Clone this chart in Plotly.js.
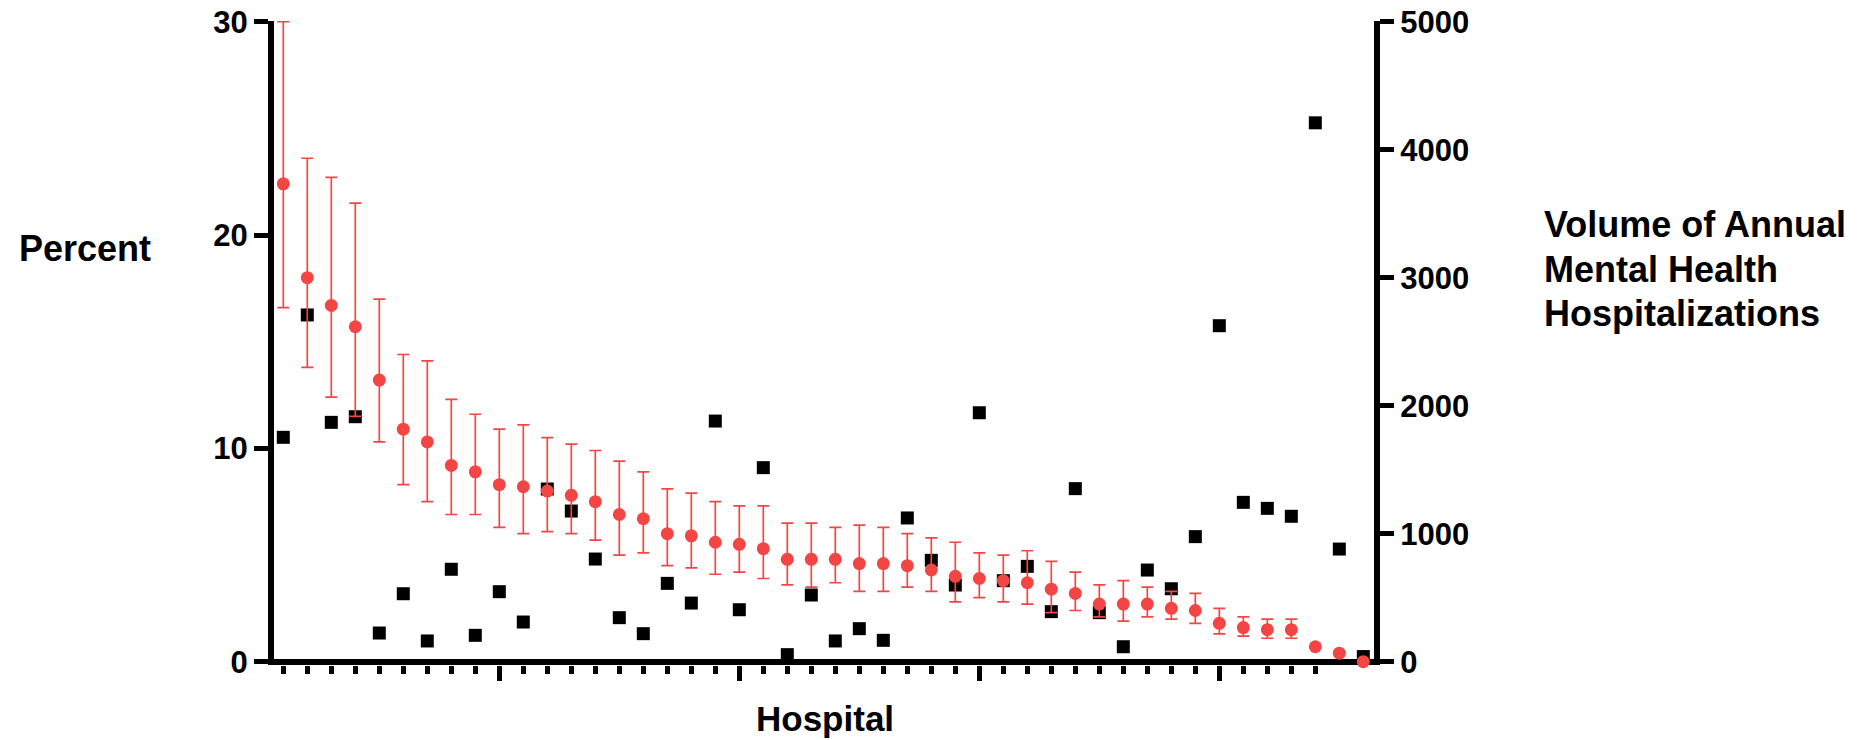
<!DOCTYPE html>
<html>
<head>
<meta charset="utf-8">
<script src="https://cdn.plot.ly/plotly-3.0.1.min.js"></script>
<style>
  html, body { margin: 0; padding: 0; background: #ffffff; }
  #chart { width: 1867px; height: 740px; }
</style>
</head>
<body>
<div id="chart"></div>
<script>
// ---- Data ----
const hospitals = [1,2,3,4,5,6,7,8,9,10,11,12,13,14,15,16,17,18,19,20,21,22,23,24,25,26,27,28,29,30,31,32,33,34,35,36,37,38,39,40,41,42,43,44,45,46];

const percent = [22.4, 18.0, 16.7, 15.7, 13.2, 10.9, 10.3, 9.2, 8.9, 8.3, 8.2, 8.0, 7.8, 7.5, 6.9, 6.7, 6.0, 5.9, 5.6, 5.5, 5.3, 4.8, 4.8, 4.8, 4.6, 4.6, 4.5, 4.3, 4.0, 3.9, 3.8, 3.7, 3.4, 3.2, 2.7, 2.7, 2.7, 2.5, 2.4, 1.8, 1.6, 1.5, 1.5, 0.7, 0.4, 0.0];

const ciUpper = [30.0, 23.6, 22.7, 21.5, 17.0, 14.4, 14.1, 12.3, 11.6, 10.9, 11.1, 10.5, 10.2, 9.9, 9.4, 8.9, 8.1, 7.9, 7.5, 7.3, 7.3, 6.5, 6.5, 6.3, 6.4, 6.3, 6.0, 5.8, 5.6, 5.1, 5.0, 5.2, 4.7, 4.2, 3.6, 3.8, 3.5, 3.3, 3.2, 2.5, 2.1, 2.0, 2.0, 0.7, 0.4, 0.0];

const ciLower = [16.6, 13.8, 12.4, 11.5, 10.3, 8.3, 7.5, 6.9, 6.9, 6.3, 6.0, 6.1, 6.0, 5.7, 5.0, 5.1, 4.5, 4.4, 4.1, 4.2, 3.9, 3.6, 3.5, 3.7, 3.3, 3.3, 3.5, 3.3, 2.8, 3.0, 2.8, 2.7, 2.3, 2.4, 2.1, 1.9, 2.1, 2.0, 1.8, 1.3, 1.2, 1.1, 1.1, 0.7, 0.4, 0.0];

const volume = [1753, 2709, 1870, 1914, 224, 531, 162, 722, 206, 547, 310, 1349, 1177, 802, 344, 219, 612, 458, 1880, 406, 1516, 55, 521, 162, 258, 167, 1123, 792, 599, 1945, 633, 745, 391, 1352, 383, 117, 716, 570, 977, 2625, 1245, 1198, 1136, 4210, 880, 40];

const leftTicks = [0, 10, 20, 30];
const rightTicks = [0, 1000, 2000, 3000, 4000, 5000];
const majorXTicks = [10, 20, 30, 40];
const minorXTicks = [1,2,3,4,5,6,7,8,9,11,12,13,14,15,16,17,18,19,21,22,23,24,25,26,27,28,29,31,32,33,34,35,36,37,38,39,41,42,43,44];

const xTitle = "Hospital";
const leftTitle = "Percent";
const rightTitleLines = ["Volume of Annual", "Mental Health", "Hospitalizations"];

// ---- Layout geometry ----
const W = 1867, H = 740;
const mL = 274, mR = W - 1374, mT = 21, mB = H - 665;
const plotW = W - mL - mR, plotH = H - mT - mB;
const px = x => (x - mL) / plotW;
const py = y => (H - mB - y) / plotH;

const RED = '#F44545';
const FONT = '"Liberation Sans", Arial, Helvetica, sans-serif';

const errPlus = ciUpper.map((u, i) => +(u - percent[i]).toFixed(3));
const errMinus = ciLower.map((l, i) => +(percent[i] - l).toFixed(3));

const traces = [
  {
    type: 'scatter', mode: 'markers',
    x: hospitals, y: volume, yaxis: 'y', xaxis: 'x',
    marker: { symbol: 'square', size: 13, color: '#000000' },
    cliponaxis: false, hoverinfo: 'skip', showlegend: false
  },
  {
    type: 'scatter', mode: 'markers',
    x: hospitals, y: percent, yaxis: 'y2', xaxis: 'x',
    marker: { symbol: 'circle', size: 13, color: RED },
    error_y: { type: 'data', symmetric: false, array: errPlus, arrayminus: errMinus,
               color: RED, thickness: 1.7, width: 6 },
    cliponaxis: false, hoverinfo: 'skip', showlegend: false
  }
];

const layout = {
  width: W, height: H,
  margin: { l: mL, r: mR, t: mT, b: mB, pad: 0 },
  paper_bgcolor: '#ffffff', plot_bgcolor: '#ffffff',
  showlegend: false,
  font: { family: FONT, color: '#000000' },
  xaxis: {
    range: [0.6125, 46.445],
    showgrid: false, zeroline: false,
    showline: false,
    ticks: 'outside', tickmode: 'array', tickvals: majorXTicks,
    ticklen: 15, tickwidth: 5, tickcolor: '#000000',
    showticklabels: false,
    minor: { tickmode: 'array', tickvals: minorXTicks, ticks: 'outside',
             ticklen: 8, tickwidth: 5, tickcolor: '#000000', showgrid: false }
  },
  yaxis: {
    side: 'right',
    range: [-25.8, 5005.5],
    showgrid: false,
    zeroline: true, zerolinecolor: '#000000', zerolinewidth: 6,
    showline: true, linecolor: '#000000', linewidth: 6,
    ticks: 'outside', tickmode: 'array', tickvals: rightTicks,
    ticklen: 14, tickwidth: 5, tickcolor: '#000000',
    tickfont: { family: FONT, size: 31, weight: 700, color: '#000000' }
  },
  yaxis2: {
    overlaying: 'y', side: 'left',
    range: [-0.155, 30.033],
    showgrid: false, zeroline: false,
    showline: true, linecolor: '#000000', linewidth: 6,
    ticks: 'outside', tickmode: 'array', tickvals: leftTicks,
    ticklen: 14, tickwidth: 5, tickcolor: '#000000',
    tickfont: { family: FONT, size: 31, weight: 700, color: '#000000' }
  },
  annotations: [
    { text: leftTitle, xref: 'paper', yref: 'paper', x: px(17), y: py(248),
      xanchor: 'left', yanchor: 'middle', showarrow: false,
      font: { family: FONT, size: 36, weight: 700, color: '#000000' } },
    { text: xTitle, xref: 'paper', yref: 'paper', x: px(825), y: py(718),
      xanchor: 'center', yanchor: 'middle', showarrow: false,
      font: { family: FONT, size: 35, weight: 700, color: '#000000' } }
  ].concat(rightTitleLines.map((t, i) => ({
      text: t, xref: 'paper', yref: 'paper', x: px(1541.7), y: py([224.2, 269.2, 313.2][i]),
      xanchor: 'left', yanchor: 'middle', showarrow: false,
      font: { family: FONT, size: 36, weight: 700, color: '#000000' } })))
};

Plotly.newPlot('chart', traces, layout, { staticPlot: true, displayModeBar: false });
</script>
</body>
</html>
